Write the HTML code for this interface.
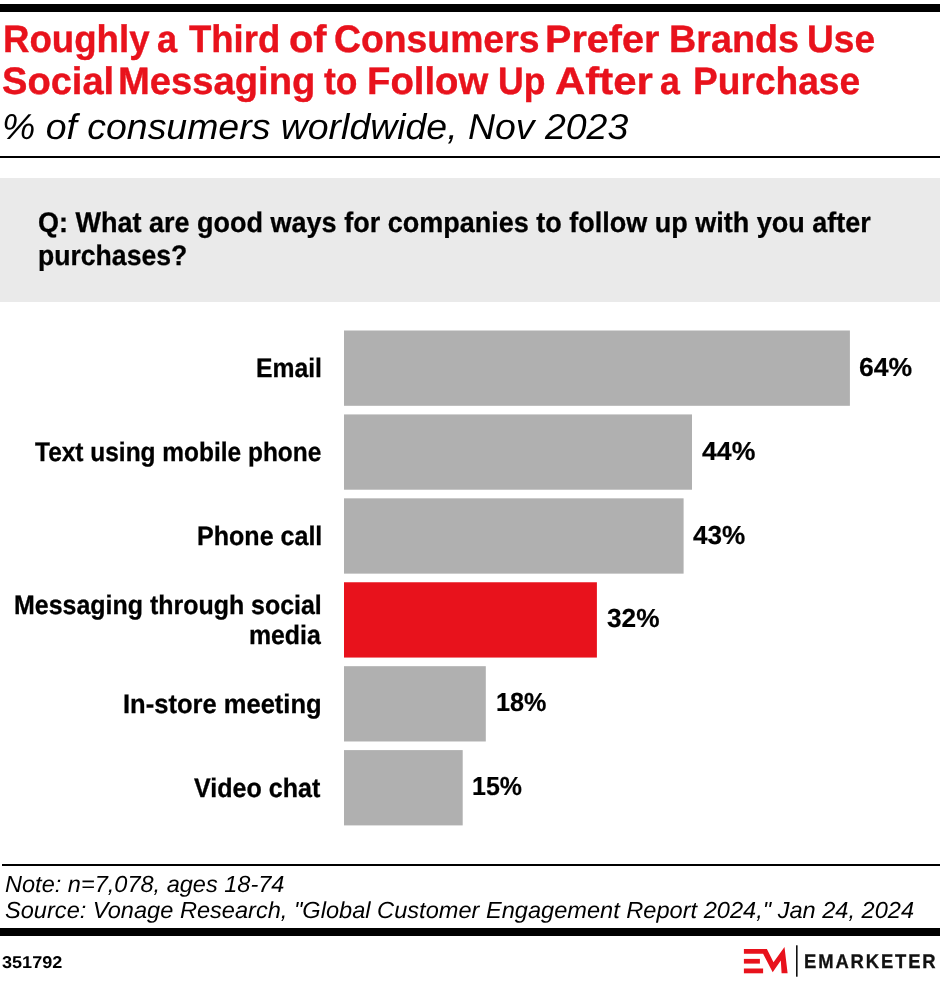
<!DOCTYPE html>
<html lang="en">
<head>
<meta charset="utf-8">
<title>Roughly a Third of Consumers Prefer Brands Use Social Messaging to Follow Up After a Purchase</title>
<style>
  html, body { margin: 0; padding: 0; background: #fff; }
  body { width: 940px; height: 994px; position: relative; overflow: hidden;
         font-family: "Liberation Sans", sans-serif; color: #000; }
  #page { position: absolute; left: 0; top: 0; width: 940px; height: 994px; will-change: transform; }
  h1, h2, p, section, footer { margin: 0; padding: 0; font: inherit; }
  .abs { position: absolute; }
  .t { position: absolute; white-space: nowrap; line-height: 1; display: inline-block;
       transform-origin: 0 0; text-rendering: geometricPrecision; }
  .rule { position: absolute; background: #000; }
  .title { font-weight: 700; color: #e8121c; -webkit-text-stroke: 0.4px #e8121c; }
  .sub { font-style: italic; color: #000; }
  .q { font-weight: 700; color: #000; -webkit-text-stroke: 0.3px #000; }
  .lab { font-weight: 700; color: #000; -webkit-text-stroke: 0.3px #000; }
  .val { font-weight: 700; color: #000; -webkit-text-stroke: 0.2px #000; }
  .note { font-style: italic; color: #000; }
  .idn { font-weight: 700; color: #000; }
  .em { font-weight: 700; color: #111; -webkit-text-stroke: 0.3px #111; }
</style>
</head>
<body>
<div id="page">
  <div class="rule" style="left:0;top:4px;width:940px;height:8px"></div>
  <h1>
  <span class="t title" id="t1_0" style="font-size:38.23px;top:20.93px;left:3.10px;transform:scaleX(0.9589);">Roughly</span>
  <span class="t title" id="t1_1" style="font-size:38.23px;top:20.93px;left:156.94px;transform:scaleX(0.9455);">a</span>
  <span class="t title" id="t1_2" style="font-size:38.23px;top:20.93px;left:189.21px;transform:scaleX(0.9554);">Third</span>
  <span class="t title" id="t1_3" style="font-size:38.23px;top:20.93px;left:288.70px;transform:scaleX(1.0400);">of</span>
  <span class="t title" id="t1_4" style="font-size:38.23px;top:20.93px;left:333.53px;transform:scaleX(0.9771);">Consumers</span>
  <span class="t title" id="t1_5" style="font-size:38.23px;top:20.93px;left:545.41px;transform:scaleX(1.0349);">Prefer</span>
  <span class="t title" id="t1_6" style="font-size:38.23px;top:20.93px;left:668.98px;transform:scaleX(0.9871);">Brands</span>
  <span class="t title" id="t1_7" style="font-size:38.23px;top:20.93px;left:807.27px;transform:scaleX(0.9701);">Use</span>
  <span class="t title" id="t2_0" style="font-size:38.23px;top:62.93px;left:1.95px;transform:scaleX(0.9963);">Social</span>
  <span class="t title" id="t2_1" style="font-size:38.23px;top:62.93px;left:117.50px;transform:scaleX(0.9987);">Messaging</span>
  <span class="t title" id="t2_2" style="font-size:38.23px;top:62.93px;left:324.27px;transform:scaleX(0.9275);">to</span>
  <span class="t title" id="t2_3" style="font-size:38.23px;top:62.93px;left:367.00px;transform:scaleX(1.0013);">Follow</span>
  <span class="t title" id="t2_4" style="font-size:38.23px;top:62.93px;left:498.40px;transform:scaleX(0.9312);">Up</span>
  <span class="t title" id="t2_5" style="font-size:38.23px;top:62.93px;left:555.18px;transform:scaleX(1.0966);">After</span>
  <span class="t title" id="t2_6" style="font-size:38.23px;top:62.93px;left:660.02px;transform:scaleX(0.9326);">a</span>
  <span class="t title" id="t2_7" style="font-size:38.23px;top:62.93px;left:692.57px;transform:scaleX(0.9712);">Purchase</span>
  </h1>
  <h2>
  <span class="t sub" id="sub" style="font-size:35.90px;top:109.90px;left:2.04px;transform:scaleX(1.0429);">% of consumers worldwide, Nov 2023</span>
  </h2>
  <div class="rule" style="left:0;top:156px;width:940px;height:2px"></div>
  <section>
  <div class="abs" style="left:0;top:178px;width:940px;height:124px;background:#eaeaea"></div>
  <p>
  <span class="t q" id="q1" style="font-size:28.34px;top:209.30px;left:38.10px;transform:scaleX(0.9534);">Q: What are good ways for companies to follow up with you after</span>
  <span class="t q" id="q2" style="font-size:28.34px;top:242.30px;left:38.25px;transform:scaleX(0.9385);">purchases?</span>
  </p>
  <svg class="abs" id="bars" style="left:0;top:320px" width="940" height="520" viewBox="0 320 940 520">
    <rect fill="#b0b0b0" x="344" y="330.50" width="505.9" height="75.3"/>
    <rect fill="#b0b0b0" x="344" y="414.42" width="348.0" height="75.3"/>
    <rect fill="#b0b0b0" x="344" y="498.34" width="339.6" height="75.3"/>
    <rect fill="#e8121c" x="344" y="582.26" width="252.9" height="75.3"/>
    <rect fill="#b0b0b0" x="344" y="666.18" width="141.8" height="75.3"/>
    <rect fill="#b0b0b0" x="344" y="750.10" width="118.7" height="75.3"/>
  </svg>
  <span class="t lab" id="l1" style="font-size:26.74px;top:354.66px;left:255.83px;transform:scaleX(0.9250);">Email</span>
  <span class="t lab" id="l2" style="font-size:26.74px;top:438.66px;left:34.77px;transform:scaleX(0.9152);">Text using mobile phone</span>
  <span class="t lab" id="l3" style="font-size:26.74px;top:522.66px;left:197.09px;transform:scaleX(0.9372);">Phone call</span>
  <span class="t lab" id="l4a" style="font-size:26.74px;top:591.66px;left:13.82px;transform:scaleX(0.9334);">Messaging through social</span>
  <span class="t lab" id="l4b" style="font-size:26.74px;top:621.66px;left:248.61px;transform:scaleX(0.9283);">media</span>
  <span class="t lab" id="l5" style="font-size:26.74px;top:690.66px;left:123.17px;transform:scaleX(0.9553);">In-store meeting</span>
  <span class="t lab" id="l6" style="font-size:26.74px;top:774.66px;left:193.95px;transform:scaleX(0.9379);">Video chat</span>
  <span class="t val" id="v1" style="font-size:26.02px;top:354.27px;left:859.28px;transform:scaleX(1.0227);">64%</span>
  <span class="t val" id="v2" style="font-size:26.02px;top:438.27px;left:702.24px;transform:scaleX(1.0244);">44%</span>
  <span class="t val" id="v3" style="font-size:26.02px;top:522.27px;left:693.25px;transform:scaleX(1.0049);">43%</span>
  <span class="t val" id="v4" style="font-size:26.02px;top:605.27px;left:606.59px;transform:scaleX(1.0089);">32%</span>
  <span class="t val" id="v5" style="font-size:26.02px;top:689.27px;left:495.55px;transform:scaleX(0.9680);">18%</span>
  <span class="t val" id="v6" style="font-size:26.02px;top:773.27px;left:472.11px;transform:scaleX(0.9590);">15%</span>
  </section>
  <footer>
  <div class="rule" style="left:2px;top:864px;width:938px;height:2px"></div>
  <p>
  <span class="t note" id="n1" style="font-size:23.26px;top:872.61px;left:4.59px;transform:scaleX(1.0126);">Note: n=7,078, ages 18-74</span>
  <span class="t note" id="n2" style="font-size:23.26px;top:898.61px;left:4.59px;transform:scaleX(1.0148);">Source: Vonage Research, &quot;Global Customer Engagement Report 2024,&quot; Jan 24, 2024</span>
  </p>
  <div class="rule" style="left:0;top:928px;width:940px;height:8px"></div>
  <span class="t idn" id="id" style="font-size:17.15px;top:953.78px;left:1.97px;transform:scaleX(1.0536);">351792</span>
  <svg class="abs" id="logo" style="left:735px;top:938px" width="70" height="50" viewBox="735 938 70 50">
    <polygon fill="#e8121c" points="743.9,948.9 766.9,948.9 773.5,962.3 784.5,946.9 787.6,973.3 781.6,973.3 780.8,960.5 772.7,972.2 763.1,953.7 743.9,953.7"/>
    <rect fill="#e8121c" x="743.9" y="958.9" width="16" height="4.7"/>
    <rect fill="#e8121c" x="743.9" y="968.5" width="19.2" height="4.8"/>
    <rect fill="#111" x="796" y="945.3" width="1.6" height="31.4"/>
  </svg>
  <span class="t em" id="em" style="font-size:19.62px;top:952.69px;left:804.46px;transform:scaleX(0.9391);letter-spacing:2px;">EMARKETER</span>
  </footer>
</div>
</body>
</html>
